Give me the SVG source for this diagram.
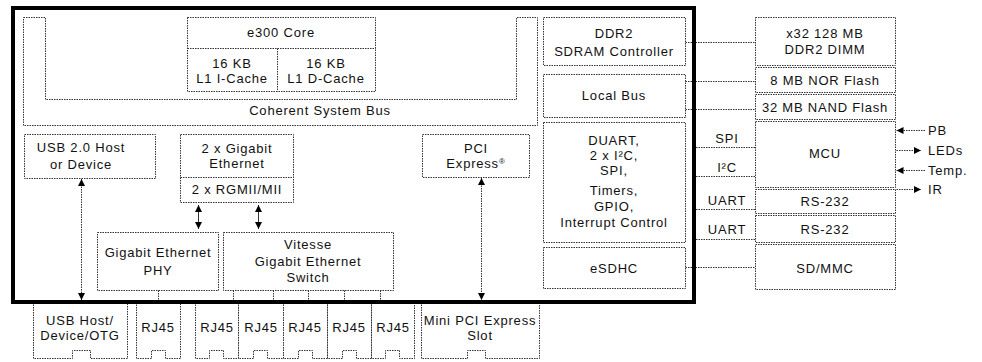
<svg xmlns="http://www.w3.org/2000/svg" width="982" height="362" viewBox="0 0 982 362">
<style>
.b{fill:#fff;stroke:#333;stroke-width:1;stroke-dasharray:1.5 1}
.l{fill:none;stroke:#333;stroke-width:1;stroke-dasharray:1.5 1}
.a{fill:none;stroke:#333;stroke-width:1}
text{font-family:"Liberation Sans",Arial,Helvetica,sans-serif;font-size:13px;letter-spacing:0.8px;fill:#111;text-anchor:middle}
.st{text-anchor:start}
</style>
<defs>
<marker id="ah" viewBox="0 0 8 8" refX="8" refY="4" markerWidth="7" markerHeight="7" orient="auto-start-reverse" markerUnits="userSpaceOnUse"><path d="M0,0 L8,4 L0,8 Z" fill="#000"/></marker>
</defs>
<rect width="982" height="362" fill="#fff"/>

<g id="coherent-bus">
<path class="b" d="M23.5,17.5 H45.5 V99.5 H516.5 V17.5 H537.5 V125.5 H23.5 Z"/>
<text x="320" y="115">Coherent System Bus</text>
</g>
<g id="e300-core">
<rect class="b" x="187.5" y="17.5" width="188" height="74"/>
<path class="l" d="M187.5,48.5 H375.5 M277.5,48.5 V91.5"/>
<text x="281" y="37">e300 Core</text>
<text x="232" y="67.5">16 KB</text>
<text x="232" y="83">L1 I-Cache</text>
<text x="326" y="67.5">16 KB</text>
<text x="326" y="83">L1 D-Cache</text>
</g>
<g id="usb20">
<rect class="b" x="24.5" y="134.5" width="131" height="44"/>
<text x="81" y="152">USB 2.0 Host</text>
<text x="81" y="168.5">or Device</text>
</g>
<g id="gig-eth">
<rect class="b" x="180.5" y="134.5" width="113" height="68"/>
<path class="l" d="M180.5,177.5 H293.5"/>
<text x="237" y="152.5">2 x Gigabit</text>
<text x="237" y="167.5">Ethernet</text>
<text x="237" y="193.5">2 x RGMII/MII</text>
</g>
<g id="pci-express">
<rect class="b" x="422.5" y="134.5" width="107" height="43"/>
<text x="476" y="152.5">PCI</text>
<text x="476" y="167.5">Express<tspan font-size="8" dy="-4">®</tspan></text>
</g>
<g id="phy">
<rect class="b" x="97.5" y="232.5" width="121" height="58"/>
<text x="158" y="256.5">Gigabit Ethernet</text>
<text x="158" y="274.5">PHY</text>
</g>
<g id="vitesse">
<rect class="b" x="223.5" y="232.5" width="170" height="58"/>
<text x="308" y="248.5">Vitesse</text>
<text x="308" y="265.5">Gigabit Ethernet</text>
<text x="308" y="281.5">Switch</text>
</g>
<g id="ddr2-ctrl">
<rect class="b" x="543.5" y="17.5" width="142" height="48"/>
<text x="614" y="37.5">DDR2</text>
<text x="614" y="55.5">SDRAM Controller</text>
</g>
<g id="local-bus">
<rect class="b" x="543.5" y="74.5" width="142" height="43"/>
<text x="614" y="99.5">Local Bus</text>
</g>
<g id="duart">
<rect class="b" x="543.5" y="122.5" width="142" height="120"/>
<text x="614" y="144.5">DUART,</text>
<text x="614" y="159.5">2 x I²C,</text>
<text x="614" y="174.5">SPI,</text>
<text x="614" y="194.5">Timers,</text>
<text x="614" y="210.5">GPIO,</text>
<text x="614" y="226.5">Interrupt Control</text>
</g>
<g id="esdhc">
<rect class="b" x="543.5" y="247.5" width="142" height="41"/>
<text x="614" y="272.5">eSDHC</text>
</g>

<g id="dimm">
<rect class="b" x="755.5" y="17.5" width="140" height="48"/>
<text x="825" y="37.5">x32 128 MB</text>
<text x="825" y="53.5">DDR2 DIMM</text>
</g>
<g id="nor">
<rect class="b" x="755.5" y="67.5" width="140" height="25"/>
<text x="825" y="84.5">8 MB NOR Flash</text>
</g>
<g id="nand">
<rect class="b" x="755.5" y="94.5" width="140" height="25"/>
<text x="825" y="111.5">32 MB NAND Flash</text>
</g>
<g id="mcu">
<rect class="b" x="755.5" y="121.5" width="140" height="66"/>
<text x="825" y="158">MCU</text>
</g>
<g id="rs232-1">
<rect class="b" x="755.5" y="189.5" width="140" height="24"/>
<text x="825" y="205.5">RS-232</text>
</g>
<g id="rs232-2">
<rect class="b" x="755.5" y="215.5" width="140" height="27"/>
<text x="825" y="234">RS-232</text>
</g>
<g id="sdmmc">
<rect class="b" x="755.5" y="244.5" width="140" height="45"/>
<text x="825" y="272.5">SD/MMC</text>
</g>

<g id="usb-host-port">
<path class="b" d="M33.5,302 V358.5 H72.5 V350.5 H90.5 V358.5 H127.5 V302"/>
<text x="80" y="324.5">USB Host/</text>
<text x="80" y="339.5">Device/OTG</text>
</g>
<g id="rj45-phy">
<path class="b" d="M136.5,302 V358.5 H151.5 V350.5 H165.5 V358.5 H180.5 V302"/>
<text x="158" y="331.5">RJ45</text>
</g>
<g id="rj45-1">
<path class="b" d="M195.5,302 V358.5 H209.5 V350.5 H223.5 V358.5 H238.5 V302"/>
<text x="217" y="331.5">RJ45</text>
</g>
<g id="rj45-2">
<path class="b" d="M238.5,302 V358.5 H253.5 V350.5 H267.5 V358.5 H283.5 V302"/>
<text x="261" y="331.5">RJ45</text>
</g>
<g id="rj45-3">
<path class="b" d="M283.5,302 V358.5 H298.5 V350.5 H312.5 V358.5 H327.5 V302"/>
<text x="305" y="331.5">RJ45</text>
</g>
<g id="rj45-4">
<path class="b" d="M327.5,302 V358.5 H342.5 V350.5 H356.5 V358.5 H371.5 V302"/>
<text x="349" y="331.5">RJ45</text>
</g>
<g id="rj45-5">
<path class="b" d="M371.5,302 V358.5 H385.5 V350.5 H399.5 V358.5 H414.5 V302"/>
<text x="393" y="331.5">RJ45</text>
</g>
<g id="mini-pci">
<path class="b" d="M421.5,302 V358.5 H467.5 V350.5 H485.5 V358.5 H539.5 V302"/>
<text x="480" y="324.5">Mini PCI Express</text>
<text x="480" y="339.5">Slot</text>
</g>

<g id="mcu-io">
<text class="st" x="928" y="135">PB</text>
<text class="st" x="928" y="155">LEDs</text>
<text class="st" x="928" y="175">Temp.</text>
<text class="st" x="928" y="194">IR</text>
</g>
<g id="if-labels">
<text x="727" y="142.5">SPI</text>
<text x="727" y="171.5">I²C</text>
<text x="727" y="204.5">UART</text>
<text x="727" y="233.5">UART</text>
</g>

<g id="connectors">
<path class="l" d="M685.5,42.5 H755.5 M685.5,81.5 H755.5 M685.5,109.5 H755.5 M696,147.5 H755.5 M696,176.5 H755.5 M696,209.5 H755.5 M696,239.5 H755.5 M685.5,267.5 H755.5"/>
<path class="l" d="M158.5,290.5 V301 M233.5,290.5 V301 M273.5,290.5 V301 M308.5,290.5 V301 M344.5,290.5 V301 M380.5,290.5 V301"/>
<line class="l" x1="81.5" y1="179" x2="81.5" y2="300" marker-start="url(#ah)" marker-end="url(#ah)"/>
<line class="l" x1="481.5" y1="178" x2="481.5" y2="300" marker-start="url(#ah)" marker-end="url(#ah)"/>
<line class="a" x1="198.5" y1="205" x2="198.5" y2="229" marker-start="url(#ah)" marker-end="url(#ah)"/>
<line class="a" x1="258.5" y1="205" x2="258.5" y2="229" marker-start="url(#ah)" marker-end="url(#ah)"/>
<line class="l" x1="925" y1="130.5" x2="896.5" y2="130.5" marker-end="url(#ah)"/>
<line class="l" x1="896.5" y1="150.5" x2="921" y2="150.5" marker-end="url(#ah)"/>
<line class="l" x1="925" y1="170.5" x2="896.5" y2="170.5" marker-end="url(#ah)"/>
<line class="l" x1="896.5" y1="189.5" x2="921" y2="189.5" marker-end="url(#ah)"/>
</g>

<rect id="frame" x="13" y="8" width="681" height="294" fill="none" stroke="#000" stroke-width="4"/>
</svg>
